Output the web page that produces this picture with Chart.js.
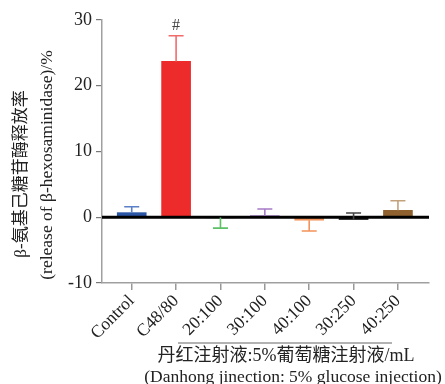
<!DOCTYPE html>
<html>
<head>
<meta charset="utf-8">
<script src="https://cdn.jsdelivr.net/npm/chart.js@4.4.1/dist/chart.umd.min.js"></script>
<style>
html,body{margin:0;padding:0;background:#fff;}
#wrap{width:445px;height:384px;position:relative;}
</style>
</head>
<body>
<div id="wrap"><canvas id="c" width="445" height="384"></canvas></div>
<script>
// ---- data ----
const categories = ["Control", "C48/80", "20:100", "30:100", "40:100", "30:250", "40:250"];
const values = [0.7, 23.7, -0.05, 0.25, -0.45, -0.35, 1.05];
const errors = [0.9, 3.9, -1.6, 1.0, -1.65, 1.0, 1.45]; // signed SD, drawn in its own direction
const yTicks = [-10, 0, 10, 20, 30];
const markers = ["", "#", "", "", "", "", ""];
const barColors = ["#2b55a5", "#ee2b2b", "#5cc065", "#a67bc8", "#f3925a", "#1e1e1e", "#8e612f"];
const errColors = ["#5a80c8", "#f26b6b", "#5cc065", "#a67bc8", "#f3925a", "#444444", "#c3a17b"];
const yTitle = ["β-氨基己糖苷酶释放率", "(release of β-hexosaminidase)/%"];
const xTitle = ["丹红注射液:5%葡萄糖注射液/mL", "(Danhong jinection: 5% glucose injection)"];

const SERIF = '"Liberation Serif", "Times New Roman", serif';
const CJK = '"Liberation Serif", "Noto Sans CJK SC", serif';

const extras = {
  id: 'extras',
  afterDatasetsDraw(chart) {
    const ctx = chart.ctx;
    const xs = chart.scales.x, ys = chart.scales.y;
    const area = chart.chartArea;
    ctx.save();
    // zero line
    const y0 = ys.getPixelForValue(0);
    ctx.strokeStyle = '#000';
    ctx.lineWidth = 3;
    ctx.beginPath();
    ctx.moveTo(area.left, y0);
    ctx.lineTo(area.right, y0);
    ctx.stroke();
    // error bars
    values.forEach((v, i) => {
      const x = xs.getPixelForValue(i);
      const yv = ys.getPixelForValue(v);
      const ye = ys.getPixelForValue(v + errors[i]);
      ctx.strokeStyle = errColors[i];
      ctx.lineWidth = 1.6;
      ctx.beginPath();
      ctx.moveTo(x, yv);
      ctx.lineTo(x, ye);
      ctx.moveTo(x - 7.5, ye);
      ctx.lineTo(x + 7.5, ye);
      ctx.stroke();
      if (markers[i]) {
        ctx.fillStyle = '#444';
        ctx.font = '16px ' + SERIF;
        ctx.textAlign = 'center';
        ctx.textBaseline = 'bottom';
        ctx.fillText(markers[i], x, ye - 2);
      }
    });
    ctx.restore();
  },
  afterDraw(chart) {
    const ctx = chart.ctx;
    ctx.save();
    // y title
    ctx.fillStyle = '#222';
    ctx.textAlign = 'center';
    ctx.textBaseline = 'middle';
    ctx.save();
    ctx.translate(22, 174);
    ctx.rotate(-Math.PI / 2);
    ctx.font = '17px ' + CJK;
    ctx.fillText(yTitle[0], 0, 0);
    ctx.restore();
    ctx.save();
    ctx.translate(47, 165);
    ctx.rotate(-Math.PI / 2);
    ctx.font = '17.5px ' + SERIF;
    ctx.fillText(yTitle[1], 0, 0);
    ctx.restore();
    // x group line
    ctx.strokeStyle = '#999';
    ctx.lineWidth = 1.5;
    ctx.beginPath();
    ctx.moveTo(178, 343);
    ctx.lineTo(392, 343);
    ctx.stroke();
    ctx.font = '18px ' + CJK;
    ctx.fillText(xTitle[0], 286, 356);
    ctx.font = '17.5px ' + SERIF;
    ctx.fillText(xTitle[1], 293, 377);
    ctx.restore();
  }
};

new Chart(document.getElementById('c'), {
  type: 'bar',
  data: {
    datasets: [{
      data: values.map((v, i) => ({ x: i, y: v })),
      backgroundColor: barColors,
      borderWidth: 0,
      barThickness: 29
    }]
  },
  options: {
    responsive: false,
    animation: false,
    devicePixelRatio: 1,
    layout: { padding: { left: 0, top: 20, right: 16, bottom: 0 } },
    plugins: { legend: { display: false }, tooltip: { enabled: false } },
    scales: {
      x: {
        type: 'linear',
        offset: false,
        min: -0.67,
        max: 6.7,
        afterBuildTicks: s => { s.ticks = categories.map((c, i) => ({ value: i })); },
        afterFit: s => { s.height = 101; },
        grid: { offset: false, drawOnChartArea: false, color: '#999', tickColor: '#999', tickLength: 7, lineWidth: 1.5 },
        border: { color: '#a0a0a0', width: 1.5 },
        ticks: {
          autoSkip: false,
          minRotation: 45,
          maxRotation: 45,
          padding: 1,
          color: '#222',
          font: { family: SERIF, size: 17.5 },
          callback: (v) => categories[v] !== undefined ? categories[v] : ''
        }
      },
      y: {
        min: -10,
        max: 30,
        afterBuildTicks: s => { s.ticks = yTicks.map(v => ({ value: v })); },
        afterFit: s => { s.width = 102; },
        grid: { drawOnChartArea: false, color: '#999', tickColor: '#777', tickLength: 6, lineWidth: 1.2 },
        border: { color: '#a0a0a0', width: 1.5 },
        ticks: {
          padding: 4,
          color: '#222',
          font: { family: SERIF, size: 18 }
        }
      }
    }
  },
  plugins: [extras]
});
</script>
</body>
</html>
